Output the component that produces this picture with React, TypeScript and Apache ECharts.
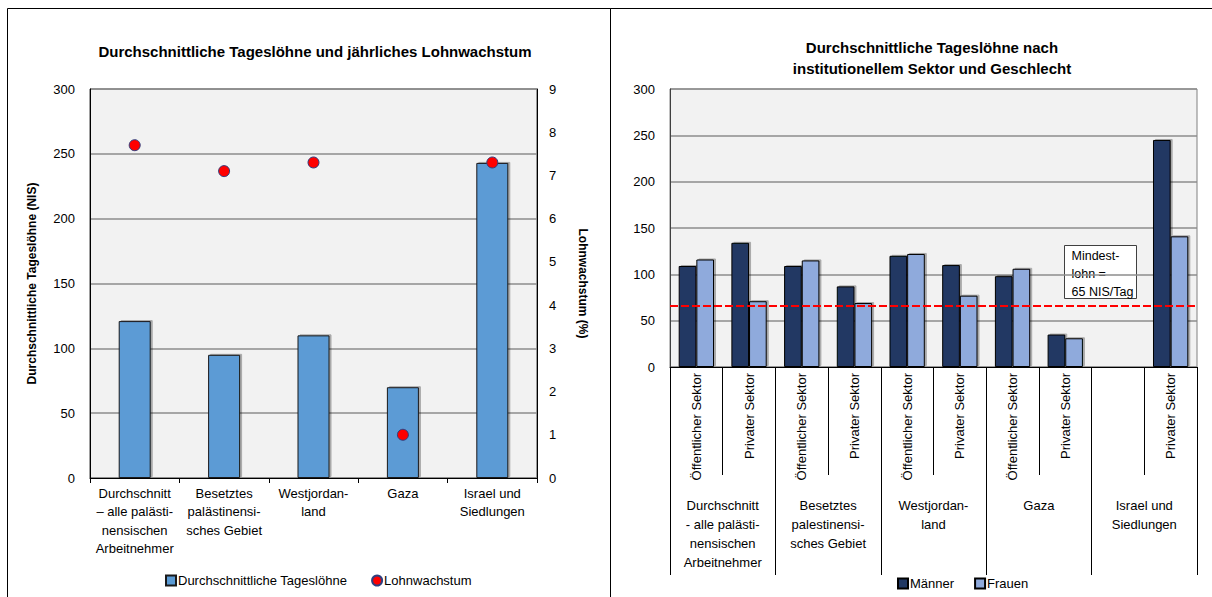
import React, { useEffect, useRef } from "react";
import * as echarts from "echarts";

// ---------- Left chart data ----------
const leftCategories = [
  "Durchschnitt\n– alle palästi-\nnensischen\nArbeitnehmer",
  "Besetztes\npalästinensi-\nsches Gebiet",
  "Westjordan-\nland",
  "Gaza",
  "Israel und\nSiedlungen",
];
const avgDailyWages = [121, 95, 110, 70, 243];
const wageGrowth = [7.7, 7.1, 7.3, 1.0, 7.3];

// ---------- Right chart data ----------
const sectorLabels = [
  "Öffentlicher Sektor",
  "Privater Sektor",
  "Öffentlicher Sektor",
  "Privater Sektor",
  "Öffentlicher Sektor",
  "Privater Sektor",
  "Öffentlicher Sektor",
  "Privater Sektor",
  "",
  "Privater Sektor",
];
const regionLabels = [
  "Durchschnitt\n- alle palästi-\nnensischen\nArbeitnehmer",
  "Besetztes\npalestinensi-\nsches Gebiet",
  "Westjordan-\nland",
  "Gaza",
  "Israel und\nSiedlungen",
];
const men = [109, 134, 109, 87, 120, 110, 98, 35, null, 245];
const women = [116, 71, 115, 69, 122, 77, 106, 31, null, 141];
const minWageLine = 66.5;
const minWageText = "Mindest-\nlohn =\n65 NIS/Tag";

const FONT = "'Liberation Sans', Arial, sans-serif";

export default function App() {
  const ref = useRef<HTMLDivElement>(null);

  useEffect(() => {
    if (!ref.current) return;
    const chart = echarts.init(ref.current, undefined, { renderer: "svg" });
    const barShadow = {
      shadowColor: "rgba(0,0,0,0.3)",
      shadowBlur: 0,
      shadowOffsetX: 2,
      shadowOffsetY: -1,
    };
    chart.setOption({
      animation: false,
      backgroundColor: "#ffffff",
      textStyle: { fontFamily: FONT, color: "#000" },
      title: [
        {
          text: "Durchschnittliche Tageslöhne und jährliches Lohnwachstum",
          left: 310,
          top: 39,
          textAlign: "center",
          textStyle: { fontSize: 15, fontWeight: "bold", color: "#000", fontFamily: FONT },
        },
        {
          text: "Durchschnittliche Tageslöhne nach\ninstitutionellem Sektor und Geschlecht",
          left: 927,
          top: 32,
          textAlign: "center",
          textStyle: {
            fontSize: 15,
            fontWeight: "bold",
            color: "#000",
            fontFamily: FONT,
            lineHeight: 21,
          },
        },
      ],
      legend: [
        {
          data: [
            { name: "Durchschnittliche Tageslöhne", icon: "rect" },
            { name: "Lohnwachstum", icon: "circle" },
          ],
          left: 160,
          top: 569,
          itemWidth: 10,
          itemHeight: 10,
          itemGap: 24,
          textStyle: { fontSize: 13, color: "#000", fontFamily: FONT, padding: [0, 0, 0, -3] },
        },
        {
          data: [
            { name: "Männer", icon: "rect" },
            { name: "Frauen", icon: "rect" },
          ],
          left: 892,
          top: 572,
          itemWidth: 10,
          itemHeight: 10,
          itemGap: 20,
          textStyle: { fontSize: 13, color: "#000", fontFamily: FONT, padding: [0, 0, 0, -3] },
        },
      ],
      grid: [
        {
          left: 90,
          top: 89,
          width: 447,
          height: 389,
          show: true,
          backgroundColor: "#F2F2F2",
          borderColor: "#404040",
          borderWidth: 1,
        },
        {
          left: 670,
          top: 89,
          width: 527,
          height: 278,
          show: true,
          backgroundColor: "#F2F2F2",
          borderColor: "#808080",
          borderWidth: 1,
        },
      ],
      xAxis: [
        {
          gridIndex: 0,
          type: "category",
          data: leftCategories,
          axisLine: { lineStyle: { color: "#000", width: 1 } },
          axisTick: { show: true, length: 5, interval: 0, lineStyle: { color: "#000" } },
          axisLabel: {
            interval: 0,
            fontSize: 13,
            color: "#000",
            lineHeight: 18.5,
            margin: 6,
            fontFamily: FONT,
          },
        },
        {
          gridIndex: 1,
          type: "category",
          data: sectorLabels,
          axisLine: { lineStyle: { color: "#000", width: 1 } },
          axisTick: { show: true, length: 108, interval: 0, lineStyle: { color: "#000" } },
          axisLabel: {
            interval: 0,
            rotate: 90,
            fontSize: 13,
            color: "#000",
            margin: 6,
            fontFamily: FONT,
          },
        },
        {
          gridIndex: 1,
          type: "category",
          data: regionLabels,
          position: "bottom",
          axisLine: { show: false },
          axisTick: { show: true, length: 208, interval: 0, lineStyle: { color: "#000" } },
          axisLabel: {
            interval: 0,
            fontSize: 13,
            color: "#000",
            lineHeight: 19,
            margin: 129,
            fontFamily: FONT,
          },
        },
      ],
      yAxis: [
        {
          gridIndex: 0,
          type: "value",
          min: 0,
          max: 300,
          interval: 50,
          name: "Durchschnittliche Tageslöhne (NIS)",
          nameLocation: "middle",
          nameRotate: 90,
          nameGap: 52,
          nameTextStyle: { fontSize: 12, fontWeight: "bold", color: "#000", fontFamily: FONT },
          axisLine: { show: true, lineStyle: { color: "#000" } },
          axisTick: { show: false },
          axisLabel: { fontSize: 13, color: "#000", margin: 15, fontFamily: FONT },
          splitLine: { lineStyle: { color: "#8C8C8C", width: 1.5 } },
        },
        {
          gridIndex: 0,
          type: "value",
          position: "right",
          min: 0,
          max: 9,
          interval: 1,
          name: "Lohnwachstum (%)",
          nameLocation: "middle",
          nameRotate: -90,
          nameGap: 40,
          nameTextStyle: { fontSize: 12, fontWeight: "bold", color: "#000", fontFamily: FONT },
          axisLine: { show: true, lineStyle: { color: "#000" } },
          axisTick: { show: false },
          axisLabel: { fontSize: 13, color: "#000", margin: 12, fontFamily: FONT },
          splitLine: { show: false },
        },
        {
          gridIndex: 1,
          type: "value",
          min: 0,
          max: 300,
          interval: 50,
          axisLine: { show: true, lineStyle: { color: "#404040" } },
          axisTick: { show: false },
          axisLabel: { fontSize: 13, color: "#000", margin: 15, fontFamily: FONT },
          splitLine: { lineStyle: { color: "#8C8C8C", width: 1.5 } },
        },
      ],
      series: [
        {
          name: "Durchschnittliche Tageslöhne",
          type: "bar",
          xAxisIndex: 0,
          yAxisIndex: 0,
          data: avgDailyWages,
          barWidth: 32,
          itemStyle: { color: "#5B9BD5", borderColor: "#1a1a1a", borderWidth: 1, ...barShadow },
        },
        {
          name: "Lohnwachstum",
          type: "scatter",
          xAxisIndex: 0,
          yAxisIndex: 1,
          data: wageGrowth,
          symbol: "circle",
          symbolSize: 11,
          itemStyle: { color: "#FF0000", borderColor: "#2F3F7F", borderWidth: 1, opacity: 1 },
          z: 5,
        },
        {
          name: "Männer",
          type: "bar",
          xAxisIndex: 1,
          yAxisIndex: 2,
          data: men,
          barGap: "0%",
          barCategoryGap: "33%",
          itemStyle: { color: "#203864", borderColor: "#000", borderWidth: 1, ...barShadow },
          markLine: {
            silent: true,
            symbol: "none",
            label: { show: false },
            lineStyle: { color: "#FF0000", type: [8, 3], width: 2 },
            data: [{ yAxis: minWageLine }],
            z: 10,
          },
        },
        {
          name: "Frauen",
          type: "bar",
          xAxisIndex: 1,
          yAxisIndex: 2,
          data: women,
          barGap: "0%",
          barCategoryGap: "33%",
          itemStyle: { color: "#8FAADC", borderColor: "#000", borderWidth: 1, ...barShadow },
        },
      ],
      graphic: [
        {
          type: "rect",
          shape: { x: 7.5, y: 8.5, width: 603, height: 620 },
          style: { fill: "none", stroke: "#000", lineWidth: 1 },
          silent: true,
        },
        {
          type: "rect",
          shape: { x: 610.5, y: 8.5, width: 620, height: 620 },
          style: { fill: "none", stroke: "#000", lineWidth: 1 },
          silent: true,
        },
        {
          type: "group",
          left: 1064,
          top: 245,
          z: 20,
          children: [
            {
              type: "rect",
              shape: { x: 0, y: 0, width: 72, height: 53 },
              style: { fill: "#fff", stroke: "#404040", lineWidth: 1 },
            },
            {
              type: "text",
              x: 7,
              y: 1,
              style: {
                text: minWageText,
                fill: "#000",
                font: "12.5px " + FONT,
                lineHeight: 18,
                textAlign: "left",
                textVerticalAlign: "top",
              },
            },
          ],
        },
      ],
    });
    return () => chart.dispose();
  }, []);

  return (
    <div
      ref={ref}
      style={{ position: "absolute", left: 0, top: 0, width: 1212, height: 597 }}
    />
  );
}
